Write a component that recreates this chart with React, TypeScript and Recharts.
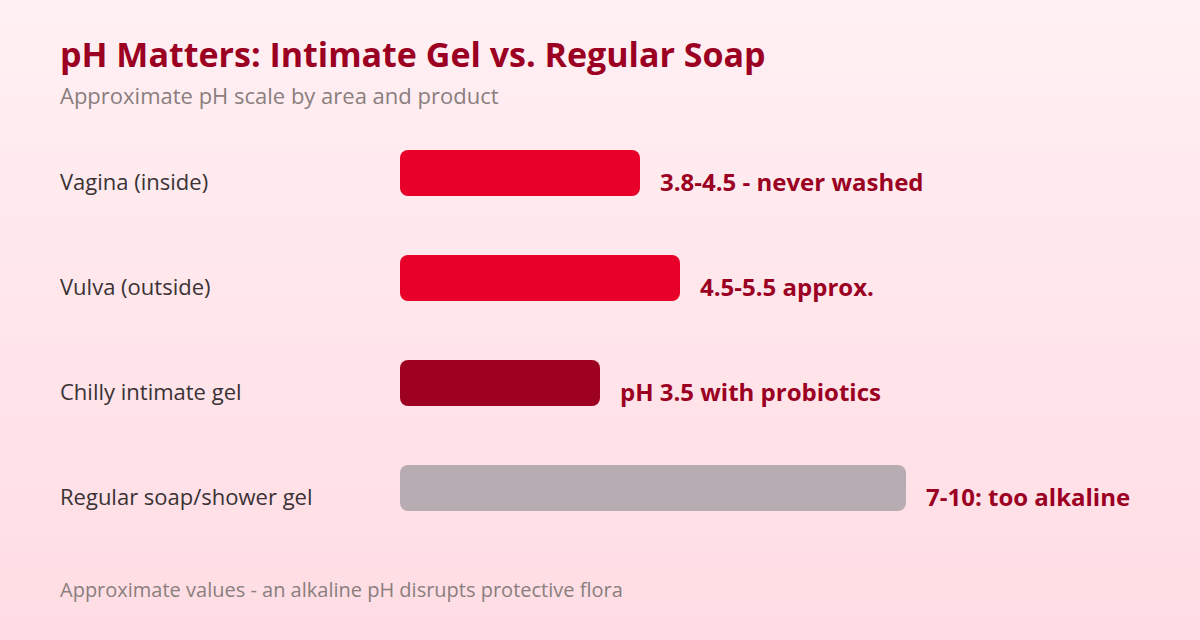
import { BarChart, Bar, XAxis, YAxis, Cell, LabelList } from 'recharts';

// categories and bar lengths (same scale for every bar)
const areas = ['Vagina (inside)', 'Vulva (outside)', 'Chilly intimate gel', 'Regular soap/shower gel'];
const barLengths = [6.0, 7.0, 5.0, 12.65];
const phNotes = ['3.8-4.5 - never washed', '4.5-5.5 approx.', 'pH 3.5 with probiotics', '7-10: too alkaline'];
const barColors = ['#e8002a', '#e8002a', '#9e0021', '#b7acb1'];

const data = areas.map((area, i) => ({ area, value: barLengths[i], note: phNotes[i] }));

const FONT = '"Open Sans", sans-serif';

const AreaTick = (props: any) => {
    const { y, payload } = props;
    return (
        <text x={60} y={y} dy={17} textAnchor="start" fill="#3a3235" fontSize={22} fontFamily={FONT}>
            {payload.value}
        </text>
    );
};

const NoteLabel = (props: any) => {
    const { x, y, width, height, value } = props;
    return (
        <text
            x={x + width + 20}
            y={y + height / 2 + 18}
            fill="#9b0023"
            fontSize={24}
            fontWeight={700}
            fontFamily={FONT}
        >
            {value}
        </text>
    );
};

export default function App() {
    return (
        <div
            style={{
                position: 'fixed',
                left: 0,
                top: 0,
                width: 1200,
                height: 640,
                overflow: 'hidden',
                background: 'linear-gradient(180deg, #fff0f3 0%, #ffdce3 100%)',
                fontFamily: FONT,
            }}
        >
            <div style={{ position: 'absolute', left: 60, top: 31, fontSize: 34, fontWeight: 700, color: '#9b0023' }}>
                pH Matters: Intimate Gel vs. Regular Soap
            </div>
            <div style={{ position: 'absolute', left: 60, top: 80, fontSize: 22, color: '#8a7e7e' }}>
                Approximate pH scale by area and product
            </div>
            <div style={{ position: 'absolute', top: 0, left: 0 }}>
                <BarChart
                    width={1200}
                    height={640}
                    data={data}
                    layout="vertical"
                    margin={{ top: 120, right: 0, bottom: 100, left: 0 }}
                >
                    <XAxis type="number" domain={[0, 20]} hide />
                    <YAxis
                        type="category"
                        dataKey="area"
                        width={400}
                        axisLine={false}
                        tickLine={false}
                        tick={<AreaTick />}
                    />
                    <Bar dataKey="value" barSize={46} radius={8} isAnimationActive={false}>
                        {data.map((d, i) => (
                            <Cell key={d.area} fill={barColors[i]} />
                        ))}
                        <LabelList dataKey="note" content={<NoteLabel />} />
                    </Bar>
                </BarChart>
            </div>
            <div style={{ position: 'absolute', left: 60, top: 576, fontSize: 20, color: '#8a7e7e' }}>
                Approximate values - an alkaline pH disrupts protective flora
            </div>
        </div>
    );
}
